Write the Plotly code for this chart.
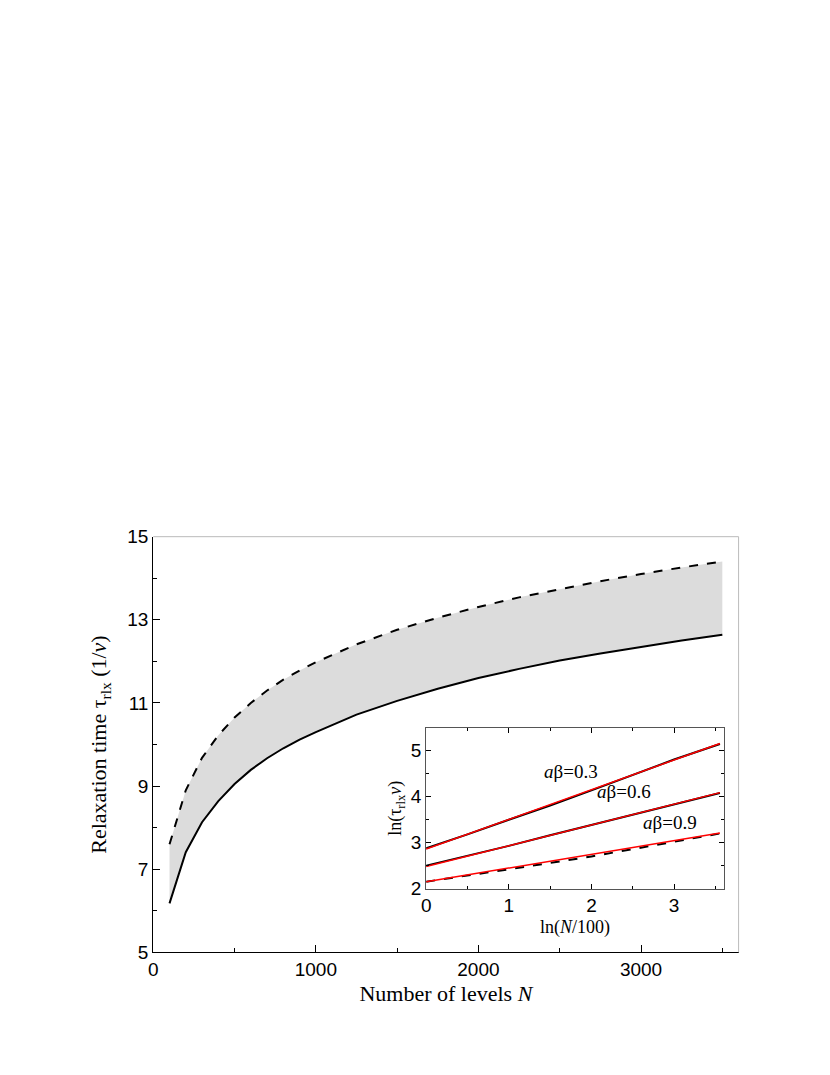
import plotly.graph_objects as go

# main panel data
N = [100, 200, 300, 400, 500, 600, 700, 800, 900, 1000, 1250, 1500, 1750,
     2000, 2250, 2500, 2750, 3000, 3250, 3500]
tau_low = [6.18, 7.41, 8.13, 8.64, 9.05, 9.39, 9.67, 9.91, 10.12, 10.30, 10.72,
           11.05, 11.34, 11.60, 11.82, 12.02, 12.19, 12.35, 12.50, 12.64]
tau_high = [7.60, 8.90, 9.68, 10.22, 10.65, 11.00, 11.30, 11.56, 11.78, 11.98,
            12.41, 12.76, 13.05, 13.31, 13.54, 13.74, 13.93, 14.10, 14.26, 14.40]

# inset data: ln(N/100)
lnN = [0.0, 0.5, 1.0, 1.5, 2.0, 2.5, 3.0, 3.555]
ln_03 = [2.88, 3.18, 3.50, 3.81, 4.14, 4.48, 4.81, 5.15]
ln_06 = [2.50, 2.71, 2.93, 3.16, 3.38, 3.61, 3.83, 4.08]
ln_09 = [2.15, 2.28, 2.42, 2.56, 2.70, 2.86, 3.02, 3.20]
fit_x = [0.0, 3.555]
fit_03 = [2.86, 5.16]
fit_06 = [2.48, 4.09]
fit_09 = [2.15, 3.21]
labels = ["0.3", "0.6", "0.9"]
label_x = [1.75, 2.4, 2.95]
label_y = [4.55, 4.12, 3.45]

fig = go.Figure()
fig.add_trace(go.Scatter(x=N, y=tau_low, mode="lines", line=dict(color="black", width=2)))
fig.add_trace(go.Scatter(x=N, y=tau_high, mode="lines", fill="tonexty",
                         fillcolor="#dcdcdc", line=dict(color="black", width=2, dash="dash")))

for ys, fy in [(ln_03, fit_03), (ln_06, fit_06), (ln_09, fit_09)]:
    fig.add_trace(go.Scatter(x=lnN, y=ys, mode="lines", xaxis="x2", yaxis="y2",
                             line=dict(color="black", width=2, dash="dash" if ys is ln_09 else "solid")))
    fig.add_trace(go.Scatter(x=fit_x, y=fy, mode="lines", xaxis="x2", yaxis="y2",
                             line=dict(color="red", width=1.5)))

for lab, lx, ly in zip(labels, label_x, label_y):
    fig.add_annotation(x=lx, y=ly, xref="x2", yref="y2", showarrow=False,
                       text="<i>a</i>β=" + lab,
                       font=dict(family="Liberation Serif", size=19, color="black"))

tick_font = dict(family="Liberation Sans", size=19, color="black")
serif = "Liberation Serif"
fig.update_layout(
    width=830, height=1075, showlegend=False,
    font=dict(color="black"),
    plot_bgcolor="white", paper_bgcolor="white",
    margin=dict(l=0, r=0, t=0, b=0),
    xaxis=dict(domain=[0.170, 0.8795], range=[0, 3600], tickvals=[0, 1000, 2000, 3000],
               ticks="inside", ticklen=7, tickcolor="black",
               minor=dict(dtick=500, ticks="inside", ticklen=4, tickcolor="black"),
               showline=True, linecolor="black", showgrid=False,
               zeroline=False, tickfont=tick_font,
               title=dict(text="Number of levels <i>N</i>", standoff=6,
                          font=dict(family=serif, size=22, color="black"))),
    yaxis=dict(domain=[0.1135, 0.5079], range=[5, 15], tickvals=[5, 7, 9, 11, 13, 15],
               ticks="inside", ticklen=7, tickcolor="black",
               minor=dict(dtick=1, ticks="inside", ticklen=4, tickcolor="black"),
               showline=True, linecolor="black", showgrid=False, zeroline=False,
               tickfont=tick_font,
               title=dict(text="Relaxation time τ<sub>rlx</sub> (1/<i>ν</i>)", standoff=14,
                          font=dict(family=serif, size=22, color="black"))),
    xaxis2=dict(domain=[0.5008, 0.8614], anchor="y2", range=[0, 3.6], tickvals=[0, 1, 2, 3],
                ticks="inside", ticklen=5, tickcolor="black",
                minor=dict(dtick=0.5, ticks="inside", ticklen=3, tickcolor="black"),
                showline=True, linecolor="#555", mirror="allticks", showgrid=False,
                zeroline=False, tickfont=tick_font,
                title=dict(text="ln(<i>N</i>/100)", standoff=4,
                           font=dict(family=serif, size=18, color="black"))),
    yaxis2=dict(domain=[0.174, 0.3265], anchor="x2", range=[2, 5.5], tickvals=[2, 3, 4, 5],
                ticks="inside", ticklen=5, tickcolor="black",
                minor=dict(dtick=0.5, ticks="inside", ticklen=3, tickcolor="black"),
                showline=True, linecolor="#555", mirror="allticks", showgrid=False,
                zeroline=False, tickfont=tick_font,
                title=dict(text="ln(τ<sub>rlx</sub><i>ν</i>)", standoff=4,
                           font=dict(family=serif, size=18, color="black"))),
)
# light frame on top/right of main panel
fig.add_shape(type="line", xref="paper", yref="paper", x0=0.170, x1=0.8795, y0=0.5079, y1=0.5079,
              line=dict(color="#bbbbbb", width=1))
fig.add_shape(type="line", xref="paper", yref="paper", x0=0.8795, x1=0.8795, y0=0.1135, y1=0.5079,
              line=dict(color="#bbbbbb", width=1))

fig.write_html("out.html")
